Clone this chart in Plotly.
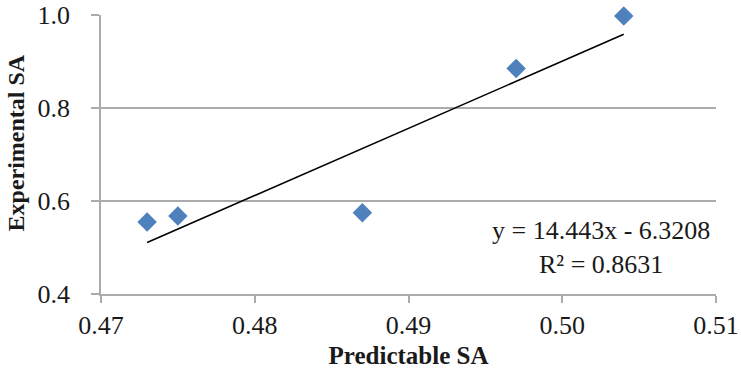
import plotly.graph_objects as go

# Measured vs. predicted SA
predictable_sa = [0.473, 0.475, 0.487, 0.497, 0.504]
experimental_sa = [0.555, 0.568, 0.575, 0.885, 0.998]

# Linear fit reported for the series
slope = 14.443
intercept = -6.3208
r_squared = 0.8631

x_ticks = [0.47, 0.48, 0.49, 0.50, 0.51]
x_tick_labels = ["0.47", "0.48", "0.49", "0.50", "0.51"]
y_ticks = [0.4, 0.6, 0.8, 1.0]
y_tick_labels = ["0.4", "0.6", "0.8", "1.0"]

fit_x = [min(predictable_sa), max(predictable_sa)]
fit_y = [slope * v + intercept for v in fit_x]

FONT = "Liberation Serif, Times New Roman, serif"
GRID = "#ababab"

fig = go.Figure()
fig.add_trace(go.Scatter(
    x=predictable_sa, y=experimental_sa, mode="markers",
    marker=dict(symbol="diamond", size=15, color="#4f81bd"),
    showlegend=False, cliponaxis=False,
))
fig.add_trace(go.Scatter(
    x=fit_x, y=fit_y, mode="lines",
    line=dict(color="black", width=1.6),
    showlegend=False,
))

# Fit equation and R² box
fig.add_annotation(
    x=0.5025, y=0.499, xref="x", yref="y",
    text=f"y = {slope}x - {abs(intercept)}<br>R² = {r_squared}",
    showarrow=False, align="center", xanchor="center", yanchor="middle",
    font=dict(family=FONT, size=26, color="#1a1a1a"),
)

# Vertical y-axis title
fig.add_annotation(
    x=-0.138, y=0.54, xref="paper", yref="paper",
    text="<b>Experimental SA</b>", textangle=-90,
    showarrow=False, xanchor="center", yanchor="middle",
    font=dict(family=FONT, size=24, color="#1a1a1a"),
)

fig.update_layout(
    width=741, height=380,
    margin=dict(l=101, r=25, t=15, b=86),
    paper_bgcolor="white", plot_bgcolor="white",
    font=dict(family=FONT, size=26, color="#1a1a1a"),
    xaxis=dict(
        range=[0.47, 0.51], tickvals=x_ticks, ticktext=x_tick_labels,
        automargin=False,
        showgrid=False, zeroline=False,
        showline=True, linecolor=GRID, linewidth=1.5,
        ticks="outside", ticklen=7, tickcolor=GRID, tickwidth=1.5,
        title=dict(text="<b>Predictable SA</b>", font=dict(size=25), standoff=8),
    ),
    yaxis=dict(
        range=[0.4, 1.0], tickvals=y_ticks, ticktext=y_tick_labels,
        automargin=False, ticklabelstandoff=16,
        showgrid=True, gridcolor=GRID, gridwidth=1.5, zeroline=False,
        showline=True, linecolor=GRID, linewidth=1.5,
        ticks="outside", ticklen=8, tickcolor=GRID, tickwidth=1.5,
    ),
)

fig.write_html("out.html")
